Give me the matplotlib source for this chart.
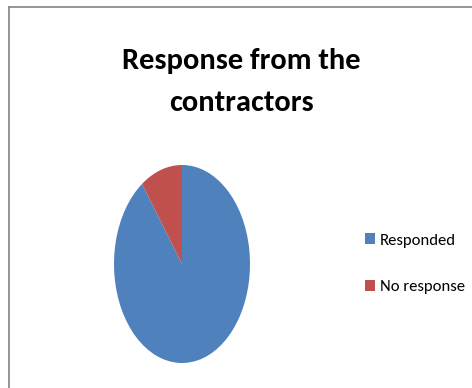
import matplotlib.pyplot as plt
from matplotlib.lines import Line2D
from matplotlib.patches import Patch

labels = ['Responded', 'No response']
values = [90, 10]
colors = ['#4F81BD', '#C0504D']

W, H = 472, 388
fam = ['Carlito', 'DejaVu Sans']

fig = plt.figure(figsize=(W / 100, H / 100), dpi=100)

# gray chart frame (top and left edges visible)
fig.add_artist(Line2D([9 / W, 9 / W], [0, 1 - 7 / H], color='#8c8c8c', lw=1.3, transform=fig.transFigure))
fig.add_artist(Line2D([9 / W, 1], [1 - 7 / H, 1 - 7 / H], color='#8c8c8c', lw=1.3, transform=fig.transFigure))

# pie is stretched into an ellipse
ax = fig.add_axes([114 / W, 1 - 363 / H, 136 / W, 198 / H])
ax.pie(values, colors=colors, startangle=90, counterclock=False,
       wedgeprops=dict(linewidth=0))
ax.set_aspect('auto')
ax.set_xlim(-1, 1)
ax.set_ylim(-1, 1)
ax.axis('off')

fig.text(241 / W, 1 - 69 / H, 'Response from the', ha='center', va='baseline',
         fontsize=22, fontweight='bold', family=fam)
fig.text(241 / W, 1 - 111 / H, 'contractors', ha='center', va='baseline',
         fontsize=22, fontweight='bold', family=fam)

handles = [Patch(facecolor=c, edgecolor='none') for c in colors]
fig.legend(handles, labels, loc='upper left', bbox_to_anchor=(357 / W, 1 - 225 / H),
           frameon=False, prop=dict(family=fam, size=12), handlelength=0.6,
           handleheight=0.6, handletextpad=0.25, labelspacing=1.95, borderpad=0)

fig.savefig('out.png', dpi=100)
